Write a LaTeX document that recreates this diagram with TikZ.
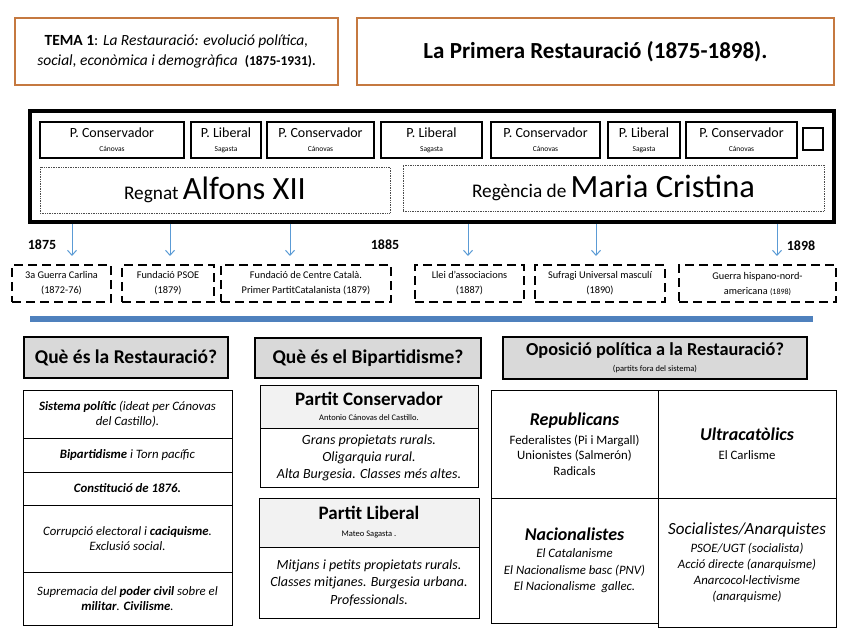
\documentclass[tikz,border=0pt]{standalone}
\usepackage{fontspec}
\setmainfont{Carlito}
\usetikzlibrary{positioning,arrows.meta}
\definecolor{orangeline}{RGB}{197,121,64}
\definecolor{arrowblue}{RGB}{91,155,213}
\definecolor{barblue}{RGB}{79,129,189}
\definecolor{headgray}{RGB}{217,217,217}
\definecolor{partgray}{RGB}{242,242,242}
\newcommand{\fsz}[2]{\fontsize{#1pt}{#2pt}\selectfont}
\begin{document}
\begin{tikzpicture}[x=1pt,y=-1pt,
  titlebox/.style={draw=orangeline,line width=2pt,align=center,minimum height=67pt,inner sep=0pt},
  partybox/.style={draw,line width=1.6pt,align=center,minimum height=36pt,inner sep=0pt,font=\fsz{14}{14}},
  reignbox/.style={draw=black!70,densely dotted,line width=0.7pt,minimum height=46pt,inner sep=0pt},
  eventbox/.style={draw,line width=1.8pt,dash pattern=on 9pt off 5pt,align=center,minimum height=37pt,inner sep=0pt,font=\fsz{10.3}{15}},
  arr/.style={draw=arrowblue,line width=1pt,-{Straight Barb[length=5pt,width=9pt]}},
  year/.style={font=\fsz{14}{15}\bfseries},
  headbox/.style={draw,line width=1.8pt,fill=headgray,align=center,inner sep=0pt},
  cell/.style={draw,line width=1pt,align=center,inner sep=0pt}]
\useasboundingbox (0,0) rectangle (848,636);

\node[titlebox,minimum width=323pt,font=\fsz{15.5}{20}] (tema) at (176.5,51.5) {\textbf{TEMA 1}: \textit{La Restauració: evolució política,}\\\textit{social, econòmica i demogràfica}\ \ {\fsz{13.5}{20}\bfseries(1875-1931).}};
\node[titlebox,minimum width=477pt,font=\fsz{23}{26}\bfseries] (title) at (595.5,51.5) {La Primera Restauració (1875-1898).};

\node[draw,line width=4pt,minimum width=804pt,minimum height=111pt,inner sep=0pt] (frame) at (432,166.5) {};
\node[partybox,minimum width=144pt] (pc1) at (112,140) {P. Conservador\\\fsz{7.5}{8}Cánovas};
\node[partybox,minimum width=70pt] (pl1) at (226,140) {P. Liberal\\\fsz{7.5}{8}Sagasta};
\node[partybox,minimum width=107pt] (pc2) at (320.5,140) {P. Conservador\\\fsz{7.5}{8}Cánovas};
\node[partybox,minimum width=101pt] (pl2) at (431.5,140) {P. Liberal\\\fsz{7.5}{8}Sagasta};
\node[partybox,minimum width=109pt] (pc3) at (545.5,140) {P. Conservador\\\fsz{7.5}{8}Cánovas};
\node[partybox,minimum width=72pt] (pl3) at (644,140) {P. Liberal\\\fsz{7.5}{8}Sagasta};
\node[partybox,minimum width=111pt] (pc4) at (741.5,140) {P. Conservador\\\fsz{7.5}{8}Cánovas};
\node[draw,line width=1.6pt,minimum width=20pt,minimum height=22pt,inner sep=0pt] (blank) at (813,139) {};
\node[reignbox,minimum width=350pt] (alfons) at (215,190) {\fsz{19.3}{22}Regnat \fsz{32.5}{34}Alfons XII};
\node[reignbox,minimum width=421pt] (maria) at (613.5,188) {\fsz{19.3}{22}Regència de \fsz{32.5}{34}Maria Cristina};

\node[year] (y1875) at (42,245) {1875};
\node[year] (y1885) at (385,245) {1885};
\node[year] (y1898) at (801,246) {1898};

\coordinate (t1) at (72,256);
\coordinate (t2) at (170,256);
\coordinate (t3) at (290,256);
\coordinate (t4) at (468,256);
\coordinate (t5) at (596,256);
\coordinate (t6) at (777,256);
\foreach \t in {t1,t2,t3,t4,t5,t6}
  \draw[arr] (frame.south -| \t) -- (\t);

\node[eventbox,minimum width=99pt] (carlina) at (61.5,283.5) {3a Guerra Carlina\\(1872-76)};
\node[eventbox,minimum width=92pt] (psoe) at (168,283.5) {Fundació PSOE\\(1879)};
\node[eventbox,minimum width=170pt] (centre) at (306,283.5) {Fundació de Centre Català.\\Primer PartitCatalanista (1879)};
\node[eventbox,minimum width=109pt] (llei) at (469.5,283.5) {Llei d’associacions\\(1887)};
\node[eventbox,minimum width=130pt] (sufragi) at (600,283.5) {Sufragi Universal masculí\\(1890)};
\node[eventbox,minimum width=157pt] (cuba) at (757.5,283.5) {Guerra hispano-nord-\\americana {\fsz{8}{15}(1898)}};

\draw[barblue,line width=6pt] (30,318.5) -- (813,318.5);

\node[headbox,minimum width=204pt,minimum height=41pt,font=\fsz{19.5}{20}\bfseries] (qres) at (126,357.5) {Què és la Restauració?};
\begin{scope}[every node/.style={cell,minimum width=209pt,font=\fsz{12.8}{15.5}\itshape}]
\node[minimum height=48pt] (sist) at (127.5,414) {\textbf{Sistema polític} (ideat per Cánovas\\del Castillo).};
\node[minimum height=34pt] (bip) at (127.5,455) {\textbf{Bipartidisme} i Torn pacífic};
\node[minimum height=33pt] (const) at (127.5,488.5) {\textbf{Constitució de 1876.}};
\node[minimum height=67pt] (corr) at (127.5,538.5) {Corrupció electoral i \textbf{caciquisme}.\\Exclusió social.};
\node[minimum height=53pt] (civil) at (127.5,598.5) {Supremacia del \textbf{poder civil} sobre el\\\textbf{militar}. \textbf{Civilisme}.};
\end{scope}

\node[headbox,minimum width=226pt,minimum height=40pt,font=\fsz{19.5}{20}\bfseries] (qbip) at (368,358) {Què és el Bipartidisme?};
\node[cell,fill=partgray,minimum width=218pt,minimum height=43pt,font=\fsz{19}{15}] (conh) at (369,406.5) {\bfseries Partit Conservador\\\fsz{8.5}{9}Antonio Cánovas del Castillo.};
\node[cell,minimum width=218pt,minimum height=59pt,font=\fsz{14}{17}\itshape] (conb) at (369,457.5) {Grans propietats rurals.\\Oligarquia rural.\\Alta Burgesia. Classes més altes.};
\node[cell,fill=partgray,minimum width=220pt,minimum height=49pt,font=\fsz{19}{17}] (libh) at (369,522.5) {\bfseries Partit Liberal\\\fsz{8.5}{9}Mateo Sagasta .};
\node[cell,minimum width=220pt,minimum height=71pt,font=\fsz{14}{17.5}\itshape] (libb) at (369,582.5) {Mitjans i petits propietats rurals.\\Classes mitjanes. Burgesia urbana.\\Professionals.};

\node[headbox,minimum width=304pt,minimum height=42pt,font=\fsz{18.3}{16}] (qop) at (655,358) {\bfseries Oposició política a la Restauració?\\\fsz{8.5}{9}(partits fora del sistema)};
\node[cell,minimum width=167pt,minimum height=108pt,font=\fsz{12.8}{15.5}] (rep) at (574.5,444) {\fsz{18}{18}\bfseries\itshape Republicans\\[3.5pt]Federalistes (Pi i Margall)\\Unionistes (Salmerón)\\Radicals};
\node[cell,minimum width=178pt,minimum height=108pt,font=\fsz{12.8}{15.5}] (ultra) at (747,444) {\fsz{18}{18}\bfseries\itshape Ultracatòlics\\[3.5pt]El Carlisme};
\node[cell,minimum width=167pt,minimum height=125pt,font=\fsz{12.8}{16.5}\itshape] (nac) at (574.5,560.5) {\fsz{18}{18}\bfseries Nacionalistes\\[0.5pt]El Catalanisme\\El Nacionalisme basc (PNV)\\El Nacionalisme\ \ gallec.};
\node[cell,minimum width=178pt,minimum height=129pt,font=\fsz{12.8}{16}\itshape] (soc) at (747,562.5) {\fsz{17}{18}Socialistes/Anarquistes\\[2pt]PSOE/UGT (socialista)\\Acció directe (anarquisme)\\Anarcocol·lectivisme\\(anarquisme)};
\end{tikzpicture}
\end{document}
